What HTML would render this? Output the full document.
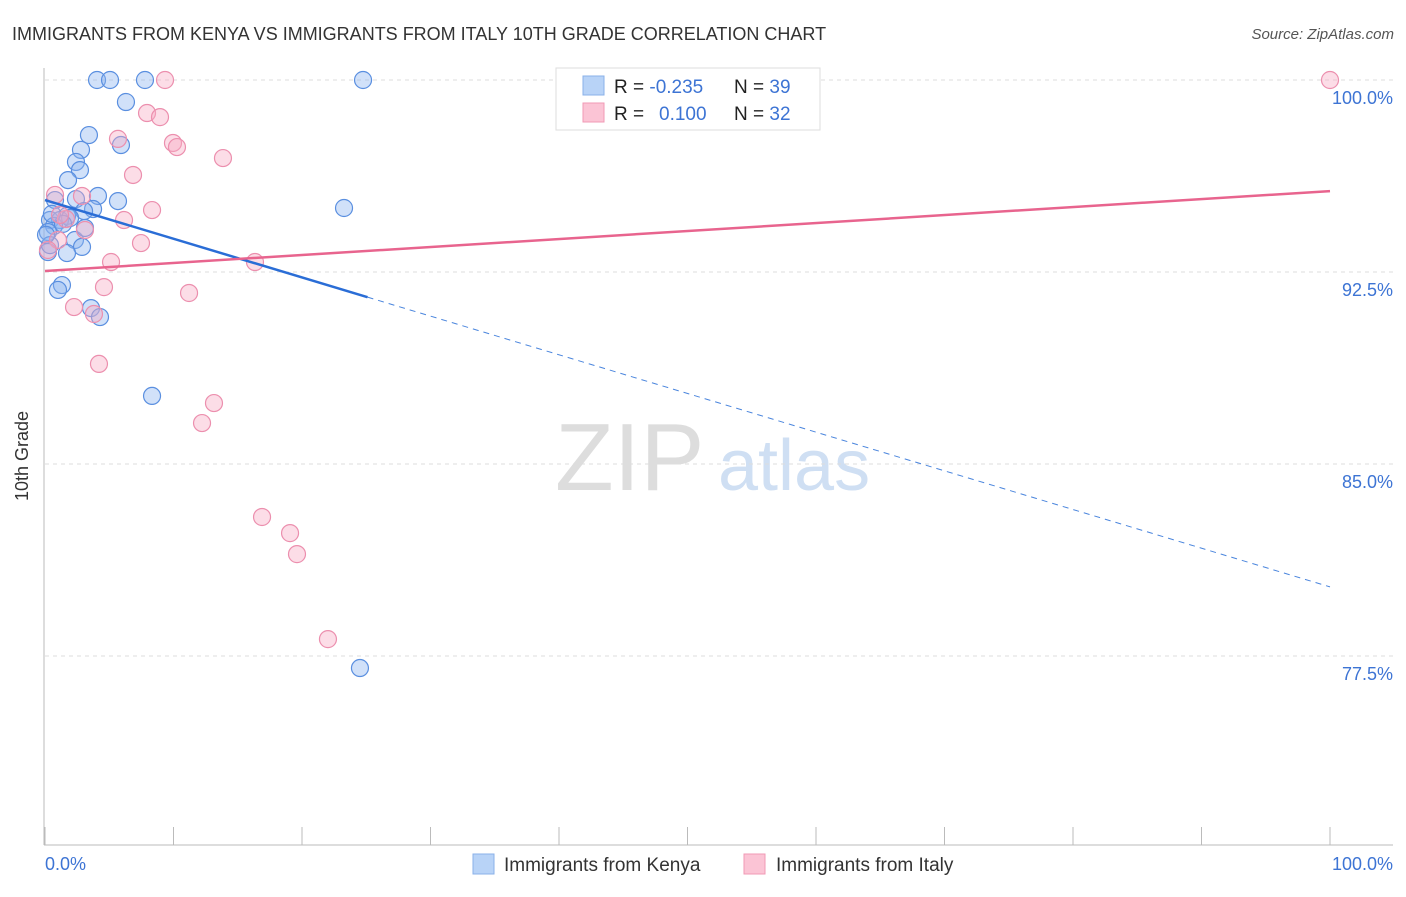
<!DOCTYPE html>
<html><head><meta charset="utf-8"><style>
body{margin:0;background:#fff;font-family:"Liberation Sans",sans-serif;}
svg text{font-family:"Liberation Sans",sans-serif;}
</style></head><body>
<svg id="chart" width="1406" height="892" xmlns="http://www.w3.org/2000/svg">
<text x="12" y="40" font-size="18" fill="#333">IMMIGRANTS FROM KENYA VS IMMIGRANTS FROM ITALY 10TH GRADE CORRELATION CHART</text>
<text x="1394" y="39" font-size="15" fill="#555" font-style="italic" text-anchor="end">Source: ZipAtlas.com</text>
<text x="555" y="490" font-size="96" fill="#ddd" font-family="Liberation Serif">ZIP</text>
<text x="718" y="490" font-size="72" fill="#cfdff3">atlas</text>
<g id="grid"></g>
<line x1="44" y1="68" x2="44" y2="845" stroke="#bbb"/>
<line x1="44" y1="845" x2="1393" y2="845" stroke="#bbb"/>
<text x="28" y="456" font-size="18" fill="#333" text-anchor="middle" transform="rotate(-90 28 456)">10th Grade</text>
<text x="45" y="870" font-size="18" fill="#3d74d4">0.0%</text>
<text x="1393" y="870" font-size="18" fill="#3d74d4" text-anchor="end">100.0%</text>
<g id="points"></g>
<g id="trends"></g>
<g>
<rect x="556" y="68" width="264" height="62" fill="#fff" stroke="#ddd"/>
<rect x="583" y="76" width="21" height="19" fill="#b8d3f7" stroke="#8ab0e8"/>
<rect x="583" y="103" width="21" height="19" fill="#fbc4d5" stroke="#f09ab5"/>
<text x="614" y="93" font-size="19" fill="#222">R = <tspan fill="#3d74d4">-0.235</tspan><tspan x="734">N = </tspan><tspan fill="#3d74d4">39</tspan></text>
<text x="614" y="120" font-size="19" fill="#222">R = <tspan x="659" fill="#3d74d4">0.100</tspan><tspan x="734">N = </tspan><tspan fill="#3d74d4">32</tspan></text>
</g>
<g>
<rect x="473" y="854" width="21" height="20" fill="#b8d3f7" stroke="#8ab0e8"/>
<text x="504" y="871" font-size="19" fill="#333">Immigrants from Kenya</text>
<rect x="744" y="854" width="21" height="20" fill="#fbc4d5" stroke="#f09ab5"/>
<text x="776" y="871" font-size="19" fill="#333">Immigrants from Italy</text>
</g>
</svg>
<script>
const yTicks=[100,92.5,85,77.5];
const yTickLabels=["100.0%","92.5%","85.0%","77.5%"];
const xTicks=[0,10,20,30,40,50,60,70,80,90,100];
const kenyaX=[4.05,5.06,7.78,24.75,6.30,3.42,5.91,2.80,2.41,2.72,1.79,4.12,5.68,2.41,0.78,3.74,3.04,1.71,0.39,1.17,1.95,0.70,0.23,23.27,2.33,2.88,1.71,0.23,1.32,1.01,3.58,4.28,8.33,24.51,0.39,1.40,3.11,0.08,0.54];
const kenyaY=[100,100,100,100,99.14,97.85,97.46,97.27,96.80,96.48,96.09,95.47,95.27,95.35,95.31,94.96,94.88,94.69,94.53,94.53,94.61,94.30,94.06,95.00,93.75,93.48,93.24,93.28,91.99,91.80,91.09,90.74,87.66,77.03,93.55,94.38,94.22,93.95,94.77];
const italyX=[9.34,100,7.94,8.95,5.68,9.96,10.27,13.85,6.85,0.78,2.88,8.33,6.15,1.63,3.11,1.01,7.47,5.14,16.34,4.59,11.21,2.26,3.81,4.20,13.15,12.22,16.89,19.07,19.61,22.02,1.17,0.23];
const italyY=[100,100,98.71,98.55,97.70,97.54,97.38,96.95,96.29,95.51,95.47,94.92,94.53,94.57,94.14,93.75,93.63,92.89,92.89,91.91,91.68,91.13,90.86,88.91,87.38,86.60,82.93,82.30,81.48,78.16,94.73,93.36];
const kenyaTrend=[95.31,80.20];
const italyTrend=[92.54,95.66];
const kenyaSolidEnd=25.1;
const NS="http://www.w3.org/2000/svg";
const sx=v=>45+v*12.85;
const sy=v=>80+(100-v)/7.5*192;
function mk(tag,attrs,parent){const e=document.createElementNS(NS,tag);for(const k in attrs)e.setAttribute(k,attrs[k]);document.getElementById(parent).appendChild(e);return e;}
yTicks.forEach((t,i)=>{
 const l=mk('line',{x1:45,x2:1393,y1:sy(t),y2:sy(t),stroke:'#ddd','stroke-dasharray':'4,4'},'grid');
 
 
 const tx=mk('text',{x:1393,y:sy(t)+24,'font-size':18,fill:'#3d74d4','text-anchor':'end'},'grid');
 tx.textContent=yTickLabels[i];
 
 
});
xTicks.forEach(t=>{
 const l=mk('line',{x1:sx(t),x2:sx(t),y1:827,y2:845,stroke:'#bbb'},'grid');
 
 
});
kenyaX.forEach((x,i)=>{
 const c=mk('circle',{cx:sx(x),cy:sy(kenyaY[i]),r:8.5,fill:'rgba(140,180,240,0.4)',stroke:'#5a8fe0','stroke-width':1.2},'points');
 
 
});
italyX.forEach((x,i)=>{
 const c=mk('circle',{cx:sx(x),cy:sy(italyY[i]),r:8.5,fill:'rgba(248,170,195,0.4)',stroke:'#ec8fae','stroke-width':1.2},'points');
 
 
});
const ky=x=>kenyaTrend[0]+(kenyaTrend[1]-kenyaTrend[0])*x/100;
const l1=mk('line',{x1:sx(0),y1:sy(ky(0)),x2:sx(kenyaSolidEnd),y2:sy(ky(kenyaSolidEnd)),stroke:'#2a6dd6','stroke-width':2.5},'trends');


const l2=mk('line',{x1:sx(kenyaSolidEnd),y1:sy(ky(kenyaSolidEnd)),x2:sx(100),y2:sy(ky(100)),stroke:'#4a85dd','stroke-width':1,'stroke-dasharray':'6,5'},'trends');


const l3=mk('line',{x1:sx(0),y1:sy(italyTrend[0]),x2:sx(100),y2:sy(italyTrend[1]),stroke:'#e8648e','stroke-width':2.5},'trends');


</script>
</body></html>
